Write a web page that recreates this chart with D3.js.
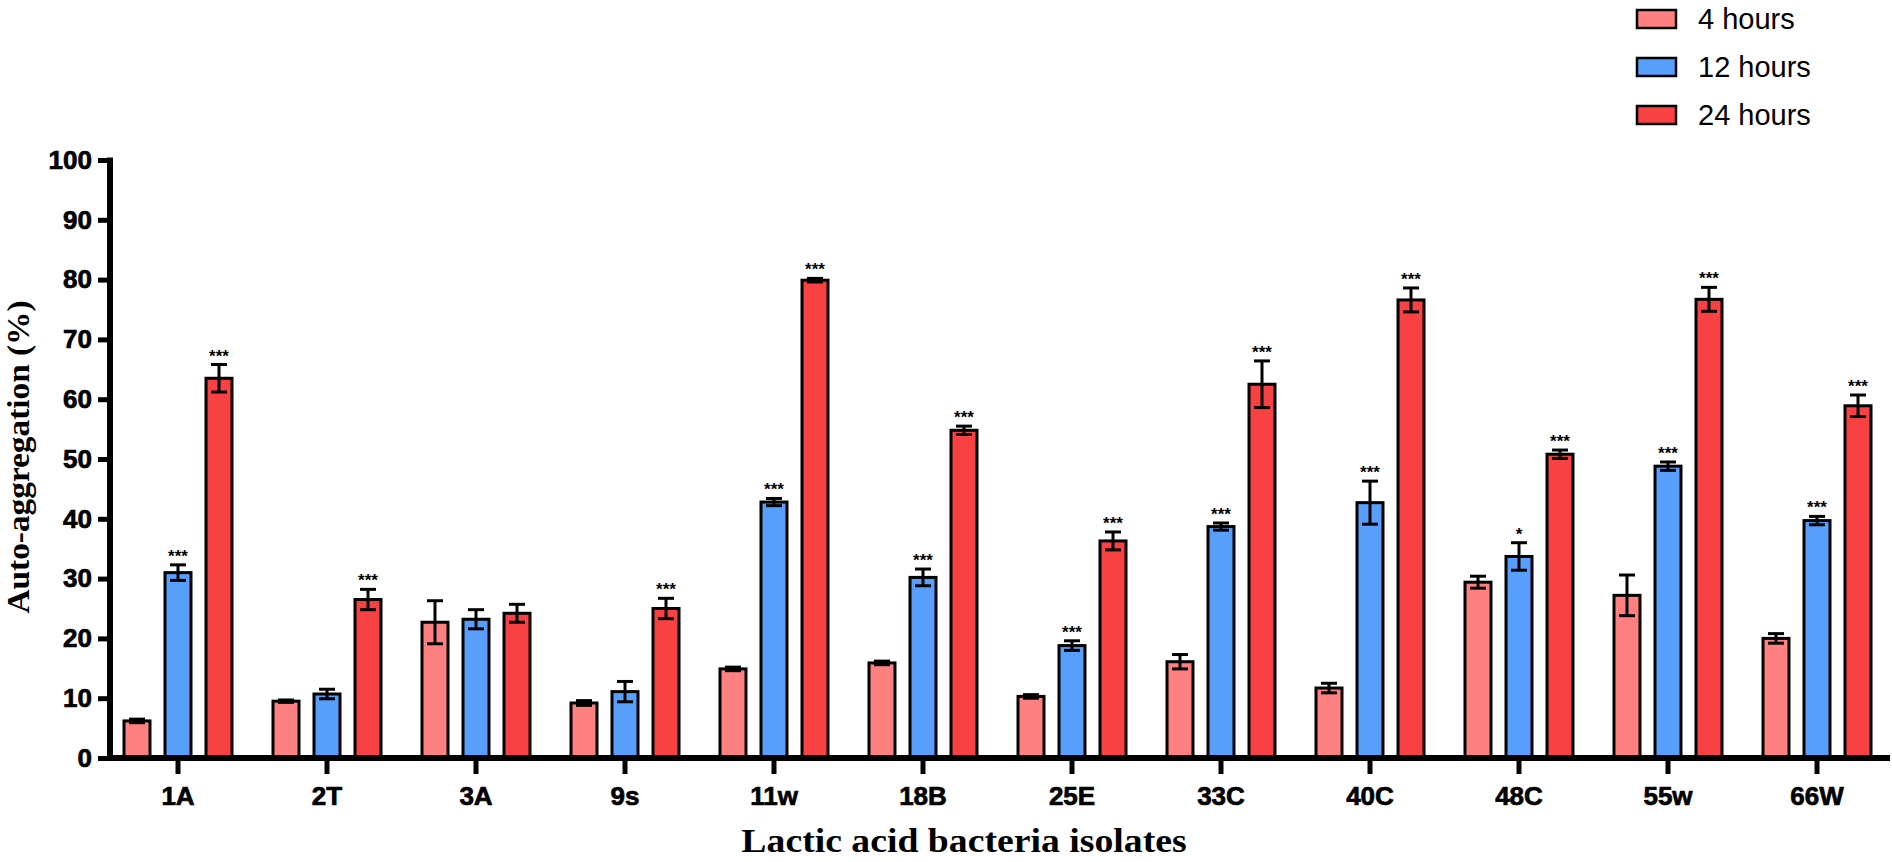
<!DOCTYPE html>
<html lang="en">
<head>
<meta charset="UTF-8">
<script src="https://d3js.org/d3.v7.min.js"></script>
<title>Auto-aggregation</title>
<style>
  body { margin: 0; background: #fff; }
  svg text { fill: #000; }
  .tick text { stroke: #000; stroke-width: 0.7px; }
</style>
</head>
<body>
<svg id="svg" width="1892" height="862"></svg>
<script>
// values (mean, error)
const isolates = ["1A", "2T", "3A", "9s", "11w", "18B", "25E", "33C", "40C", "48C", "55w", "66W"];
const seriesNames = ["4 hours", "12 hours", "24 hours"];
const seriesColors = ["#ff8080", "#579ffb", "#f84143"];

const hours4 = [6.2, 9.5, 22.7, 9.2, 14.9, 15.9, 10.3, 16.1, 11.7, 29.4, 27.2, 20.0];
const hours4Err = [0.3, 0.2, 3.6, 0.4, 0.3, 0.3, 0.3, 1.2, 0.8, 1.0, 3.4, 0.8];
const hours12 = [31.0, 10.7, 23.2, 11.1, 42.8, 30.2, 18.8, 38.7, 42.7, 33.7, 48.8, 39.7];
const hours12Err = [1.3, 0.8, 1.6, 1.7, 0.6, 1.4, 0.8, 0.6, 3.6, 2.3, 0.7, 0.7];
const hours24 = [63.5, 26.5, 24.2, 25.0, 79.9, 54.8, 36.3, 62.5, 76.6, 50.8, 76.7, 58.9];
const hours24Err = [2.3, 1.7, 1.5, 1.7, 0.3, 0.7, 1.5, 3.9, 2.0, 0.7, 2.0, 1.8];

const stars4 = ["", "", "", "", "", "", "", "", "", "", "", ""];
const stars12 = ["***", "", "", "", "***", "***", "***", "***", "***", "*", "***", "***"];
const stars24 = ["***", "***", "", "***", "***", "***", "***", "***", "***", "***", "***", "***"];

const yTicks = [0, 10, 20, 30, 40, 50, 60, 70, 80, 90, 100];

const yAxisX = 110;
const xAxisEnd = 1890;

var svg = d3.select("svg");

var means = [hours4, hours12, hours24];
var errs = [hours4Err, hours12Err, hours24Err];
var stars = [stars4, stars12, stars24];

var rows = [];
isolates.forEach((iso, i) => {
  seriesNames.forEach((s, k) => {
    rows.push({ iso: iso, series: s, k: k, v: means[k][i], e: errs[k][i], star: stars[k][i] });
  });
});

var x = d3.scaleBand().domain(isolates).range([103.5, 1891.5]);
var inner = d3.scaleBand().domain(seriesNames).range([-54, 54]).paddingInner(0.366);
var y = d3.scaleLinear().domain([0, 100]).range([758, 160]);
var color = d3.scaleOrdinal().domain(seriesNames).range(seriesColors);

function cx(d) {
  return x(d.iso) + x.bandwidth() / 2 + inner(d.series) + inner.bandwidth() / 2;
}

// bars
svg.append("g")
  .selectAll("rect")
  .data(rows)
  .enter()
  .append("rect")
  .attr("x", (d) => x(d.iso) + x.bandwidth() / 2 + inner(d.series))
  .attr("y", (d) => y(d.v))
  .attr("width", inner.bandwidth())
  .attr("height", (d) => y(0) - y(d.v))
  .attr("fill", (d) => color(d.series))
  .attr("stroke", "#000")
  .attr("stroke-width", 3);

// error bars
var err = svg.append("g").attr("stroke", "#000").attr("stroke-width", 3);
err.selectAll(".stem")
  .data(rows)
  .enter()
  .append("line")
  .attr("x1", cx)
  .attr("x2", cx)
  .attr("y1", (d) => y(d.v - d.e))
  .attr("y2", (d) => y(d.v + d.e));
err.selectAll(".capTop")
  .data(rows)
  .enter()
  .append("line")
  .attr("x1", (d) => cx(d) - 8)
  .attr("x2", (d) => cx(d) + 8)
  .attr("y1", (d) => y(d.v + d.e))
  .attr("y2", (d) => y(d.v + d.e));
err.selectAll(".capBottom")
  .data(rows)
  .enter()
  .append("line")
  .attr("x1", (d) => cx(d) - 8)
  .attr("x2", (d) => cx(d) + 8)
  .attr("y1", (d) => y(d.v - d.e))
  .attr("y2", (d) => y(d.v - d.e));

// significance marks
svg.append("g")
  .selectAll("text")
  .data(rows.filter((d) => d.star !== ""))
  .enter()
  .append("text")
  .attr("x", cx)
  .attr("y", (d) => y(d.v + d.e) - 3)
  .attr("text-anchor", "middle")
  .style("font-family", "Liberation Sans, Arial, sans-serif")
  .style("font-weight", "bold")
  .style("font-size", "17px")
  .text((d) => d.star);

// y axis
var yAxis = svg.append("g")
  .attr("transform", `translate(${yAxisX},0)`)
  .call(d3.axisLeft(y).tickValues(yTicks).tickSize(12).tickSizeOuter(0).tickPadding(6));
yAxis.select(".domain").attr("stroke-width", 6).attr("d", `M0,${y(0) + 3}V${y(100) - 2.5}`);
yAxis.selectAll(".tick line").attr("stroke-width", 5);
yAxis.selectAll(".tick text")
  .style("font-family", "Liberation Sans, Arial, sans-serif")
  .style("font-weight", "bold")
  .style("font-size", "26px");

// x axis
var xAxis = svg.append("g")
  .attr("transform", `translate(0,${y(0)})`)
  .call(d3.axisBottom(x).tickSize(16).tickSizeOuter(0).tickPadding(13));
xAxis.select(".domain").attr("stroke-width", 6).attr("d", `M${yAxisX - 3},0H${xAxisEnd}`);
xAxis.selectAll(".tick line").attr("stroke-width", 5);
xAxis.selectAll(".tick text")
  .style("font-family", "Liberation Sans, Arial, sans-serif")
  .style("font-weight", "bold")
  .style("font-size", "26px");

// axis titles (serif face in the original is wider, so stretch a little)
svg.append("text")
  .attr("transform", "translate(29,457) rotate(-90) scale(1.075,1)")
  .attr("text-anchor", "middle")
  .style("font-family", "Liberation Serif, Times New Roman, serif")
  .style("font-weight", "bold")
  .style("font-size", "31px")
  .text("Auto-aggregation (%)");

svg.append("text")
  .attr("transform", "translate(964,852) scale(1.11,1)")
  .attr("text-anchor", "middle")
  .style("font-family", "Liberation Serif, Times New Roman, serif")
  .style("font-weight", "bold")
  .style("font-size", "34px")
  .text("Lactic acid bacteria isolates");

// legend
var legend = svg.append("g")
  .selectAll("g")
  .data(seriesNames)
  .enter()
  .append("g")
  .attr("transform", (d, i) => `translate(1637,${19 + i * 48})`);
legend.append("rect")
  .attr("x", 0)
  .attr("y", -9)
  .attr("width", 39)
  .attr("height", 18)
  .attr("fill", (d) => color(d))
  .attr("stroke", "#000")
  .attr("stroke-width", 2.5);
legend.append("text")
  .attr("x", 61)
  .attr("y", 0)
  .attr("dy", "0.36em")
  .style("font-family", "Liberation Sans, Arial, sans-serif")
  .style("font-size", "29px")
  .text((d) => d);
</script>
</body>
</html>
